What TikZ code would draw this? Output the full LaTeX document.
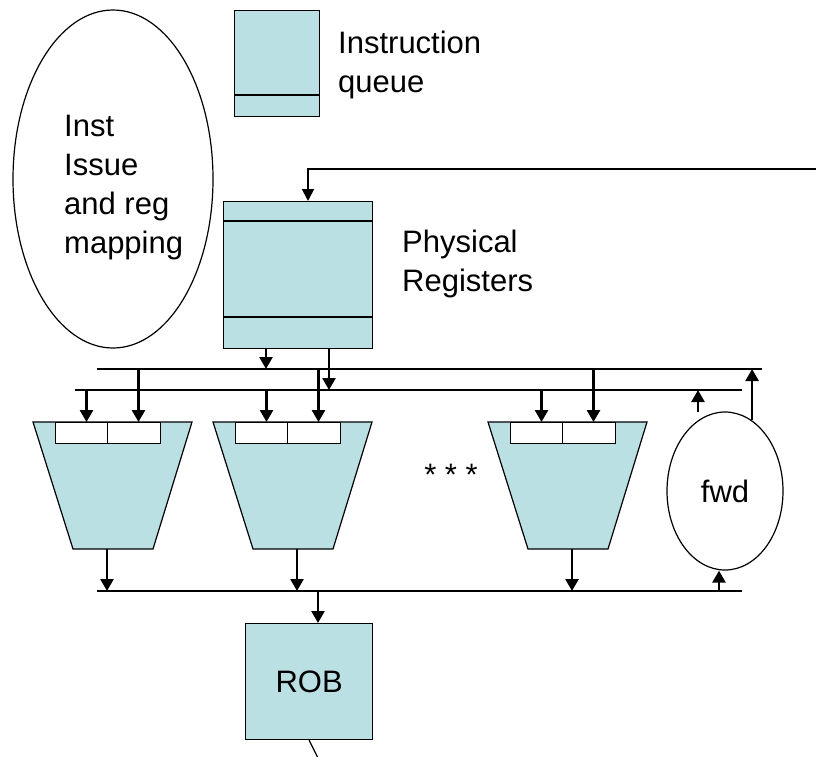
\documentclass[tikz,border=0pt]{standalone}
\usepackage{fontspec}
\setmainfont{Liberation Sans}
\usetikzlibrary{arrows.meta,shapes.geometric,calc}
\definecolor{regblue}{RGB}{186,224,227}
\begin{document}
\begin{tikzpicture}[x=1pt,y=-1pt,
  every node/.style={font=\fontsize{31}{39}\selectfont},
  blk/.style={draw, fill=regblue, line width=1.2pt, inner sep=0pt, anchor=north west},
  inbox/.style={draw, fill=white, line width=1.2pt, inner sep=0pt, anchor=north west, minimum width=52.5pt, minimum height=21pt},
  alu/.style={draw, fill=regblue, line width=1.2pt},
  oval/.style={draw, ellipse, line width=1.2pt, inner sep=0pt},
  lbl/.style={anchor=north west, inner sep=0pt, align=left},
  bus/.style={line width=1.4pt},
  arr/.style={line width=2.6pt, -{Triangle[length=12pt,width=13pt]}},
  arrthin/.style={line width=1.8pt, -{Triangle[length=12pt,width=12pt]}}]
\useasboundingbox (0,0) rectangle (816,756);

% issue ellipse
\node[oval, minimum width=200pt, minimum height=338pt] (iss) at (113,179) {};
\node[lbl] (isstxt) at (64,115) {Inst\\Issue\\and reg\\mapping};

% instruction queue
\node[blk, minimum width=85pt, minimum height=106pt] (iq) at (234,10) {};
\draw[line width=1.2pt] (iq.west |- 0,95) -- (iq.east |- 0,95);
\node[lbl] (iqtxt) at (338,31) {Instruction\\queue};

% physical registers
\node[blk, minimum width=149pt, minimum height=147pt] (pr) at (223,201) {};
\draw[line width=1.2pt] (pr.west |- 0,221) -- (pr.east |- 0,221);
\draw[line width=1.2pt] (pr.west |- 0,317) -- (pr.east |- 0,317);
\node[lbl] (prtxt) at (402,230) {Physical\\Registers};

% feedback into registers
\coordinate (fb) at (818,169);
\coordinate (prin) at ($(pr.north west)+(85,0)$);
\draw[arrthin] (fb) -| (prin);

% buses
\coordinate (b1w) at (97,369);  \coordinate (b1e) at (762,369);
\coordinate (b2w) at (75,390);  \coordinate (b2e) at (742,390);
\coordinate (b3w) at (97,591);  \coordinate (b3e) at (742,591);
\draw[bus] (b1w) -- (b1e);
\draw[bus] (b2w) -- (b2e);
\draw[bus] (b3w) -- (b3e);

% register outputs
\coordinate (po1) at ($(pr.south west)+(43,0)$);
\coordinate (po2) at ($(pr.south west)+(106,0)$);
\draw[arr] (po1) -- (po1 |- b1w);
\draw[arr] (po2) -- (po2 |- b2w);

% functional units
\foreach \n/\x/\o in {1/33/107, 2/213/297, 3/488/572} {
  \draw[alu] (\x,422) coordinate (tl\n) -- ++(159,0) -- ++(-39,127) -- ++(-80,0) -- cycle;
  \node[inbox] (ina\n) at (\x+21.5,422) {};
  \node[inbox] (inb\n) at (\x+74,422) {};
  \coordinate (pa\n) at (\x+53.5,390);
  \coordinate (pb\n) at (\x+105.5,369);
  \draw[arr] (pa\n) -- (pa\n |- ina\n.north);
  \draw[arr] (pb\n) -- (pb\n |- inb\n.north);
  \coordinate (o\n) at (\o,549);
  \draw[arr] (o\n) -- (o\n |- b3w);
}

\node[anchor=base, inner sep=0pt] (dots) at (451,485) {* * *};

% forwarding
\node[oval, minimum width=116pt, minimum height=158pt] (fwd) at (725,491) {fwd};
\coordinate (fin) at (719,591);
\draw[arr] (fin) -- (fin |- fwd.south);
\draw[arr] (fwd.69) -- (fwd.69 |- b1e);
\coordinate (fa) at (698,412);
\draw[arr] (fa) -- (fa |- b2e);

% ROB
\node[blk, minimum width=127pt, minimum height=116pt] (rob) at (245,623) {};
\node (robtxt) at (rob.center) {ROB};
\coordinate (ri) at (318,591);
\draw[arr] (ri) -- (ri |- rob.north);
\coordinate (rout) at (318,758);
\draw[line width=1.2pt] (rob.south) -- (rout);
\end{tikzpicture}
\end{document}
